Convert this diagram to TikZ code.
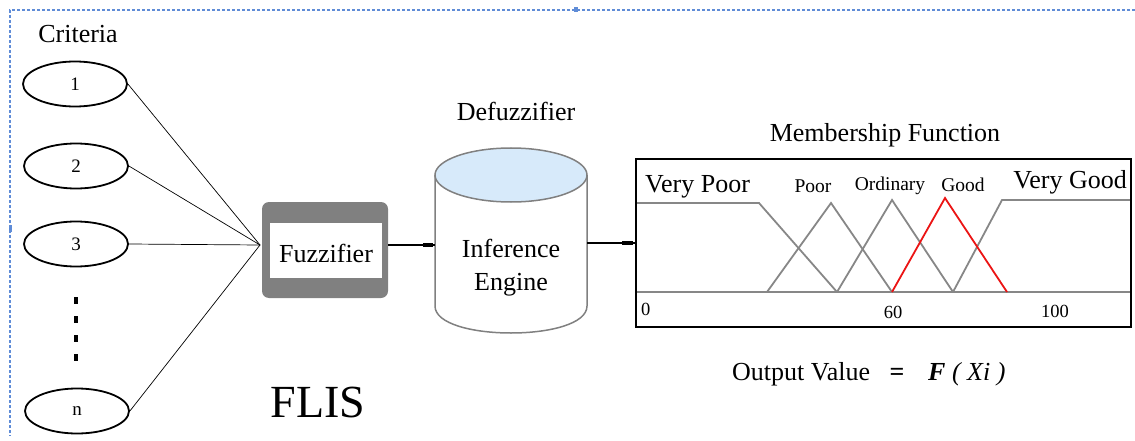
\documentclass[tikz,border=0pt]{standalone}
\usepackage{fontspec}
\setmainfont{Liberation Serif}
\usetikzlibrary{shapes.geometric}
\definecolor{selblue}{RGB}{95,140,215}
\definecolor{boxgray}{RGB}{128,128,128}
\definecolor{mfgray}{RGB}{135,135,135}
\definecolor{capblue}{RGB}{215,234,250}
\definecolor{mfred}{RGB}{235,20,20}
\newcommand{\fsz}[1]{\fontsize{#1}{#1}\selectfont}
\begin{document}
\begin{tikzpicture}[x=1pt,y=-1pt,
  crit/.style={ellipse,draw,line width=1.8pt,minimum width=104pt,minimum height=45pt,inner sep=0pt,font=\fsz{19}},
  lbl/.style={inner sep=0pt,font=\fsz{26}},
  small/.style={inner sep=0pt,font=\fsz{19.5}},
  tick/.style={inner sep=0pt,font=\fsz{18.5}},
  wire/.style={line width=0.7pt},
  link/.style={line width=1.6pt},
  nub/.style={line width=3.5pt},
  mfline/.style={draw=mfgray,line width=1.8pt},
  mfhot/.style={draw=mfred,line width=1.8pt},
  cyl/.style={draw=boxgray,line width=1.5pt}]
\useasboundingbox (0,0) rectangle (1135,441);

% selection frame
\draw[selblue,line width=1.1pt,dash pattern=on 3pt off 2pt] (1135,10) -- (10,10) -- (10,436);
\fill[selblue] (573.5,7.5) rectangle (577.5,12.5);
\fill[selblue] (8.5,225) rectangle (11.5,232);

% criteria
\node[lbl,anchor=base] (crit) at (78,43) {Criteria};
\node[crit] (c1) at (75,84) {1};
\node[crit] (c2) at (76,166) {2};
\node[crit] (c3) at (76,244) {3};
\node[crit] (cn) at (77,411) {n};
\draw[line width=4pt,dash pattern=on 7pt off 12pt] (c3.south |- 0,297) -- (c3.south |- 0,362);

% fuzzifier
\node[fill=boxgray,rounded corners=7pt,minimum width=126pt,minimum height=96pt,inner sep=0pt] (fuzzbox) at (325,250) {};
\node[fill=white,minimum width=112pt,minimum height=55pt,inner sep=0pt] (fuzzwin) at (326,250.5) {};
\node[lbl,anchor=base] (fuzz) at (326,262) {Fuzzifier};
\coordinate (conv) at (260,245);
\foreach \c in {c1,c2,c3,cn} \draw[wire] (\c.east) -- (conv);

\node[inner sep=0pt,font=\fsz{46}] (flis) at (318,402.5) {FLIS};

% inference engine (cylinder)
\node[lbl,anchor=base] (defuzz) at (516,121) {Defuzzifier};
\fill[white] (435,175) -- (435,306) .. controls (435,342) and (587,342) .. (587,306) -- (587,175) -- cycle;
\draw[cyl] (435,175) -- (435,306) .. controls (435,342) and (587,342) .. (587,306) -- (587,175);
\draw[cyl,fill=capblue] (511,175) ellipse [x radius=76, y radius=27];
\node[lbl,anchor=base] (inf) at (511,257) {Inference};
\node[lbl,anchor=base] (eng) at (511,290) {Engine};
\coordinate (cylL) at (435,245);
\coordinate (cylR) at (587,243);
\draw[link] (fuzzbox.east |- cylL) -- (cylL);
\draw[nub] (423,245) -- (433,245);

% membership function panel
\node[lbl,anchor=base] (mftitle) at (885,142) {Membership Function};
\draw[mfline] (636,292) -- (1131,292);
\draw[mfline] (636,203) -- (759,203) -- (837,292);
\draw[mfline] (767,292) -- (831,203) -- (892,292);
\draw[mfline] (837,292) -- (892,200) -- (953,292);
\draw[mfline] (953,292) -- (1002,200) -- (1131,200);
\draw[mfhot] (892,292) -- (945,198) -- (1007,292);
\node[draw,line width=2pt,minimum width=495pt,minimum height=168pt,inner sep=0pt] (mf) at (883.5,243) {};
\draw[link] (cylR) -- (mf.west);
\draw[nub] (622,243) -- (633,243);

\node[lbl,anchor=base west] (vp) at (645,192) {Very Poor};
\node[small,anchor=base] (poor) at (813,192) {Poor};
\node[small,anchor=base] (ord) at (890,190) {Ordinary};
\node[small,anchor=base] (good) at (963,191) {Good};
\node[lbl,anchor=base east] (vg) at (1127,188) {Very Good};
\node[tick,anchor=base west] (t0) at (641,315) {0};
\node[tick,anchor=base] (t60) at (893,318) {60};
\node[tick,anchor=base] (t100) at (1055,317) {100};

% output relation
\node[lbl,anchor=base west] (outv) at (732,380) {Output Value};
\node[lbl,anchor=base,font=\fsz{26}\bfseries] (eq) at (897,380) {=};
\node[lbl,anchor=base west] (fx) at (928,380) {\textbf{\textit{F}} \textit{( Xi )}};
\end{tikzpicture}
\end{document}
